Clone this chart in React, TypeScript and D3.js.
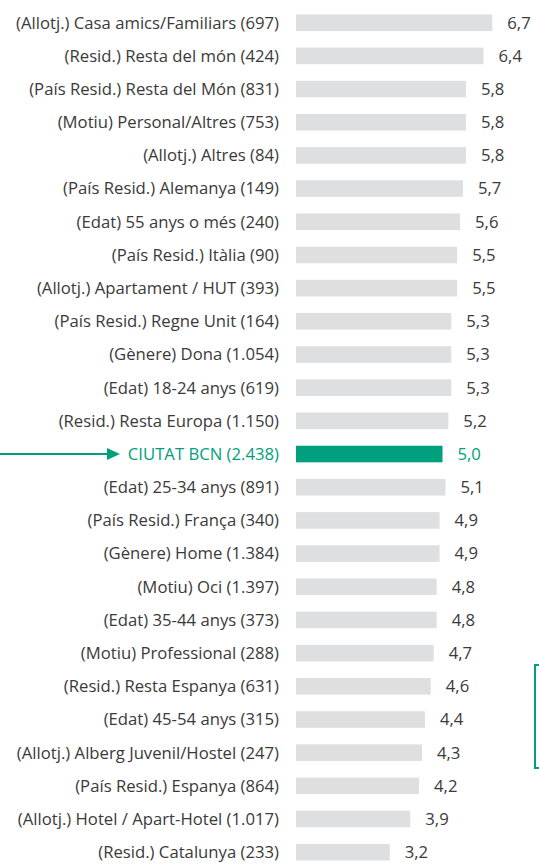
import React from "react";
import * as d3 from "d3";

const categories = [
  "(Allotj.) Casa amics/Familiars (697)",
  "(Resid.) Resta del món (424)",
  "(País Resid.) Resta del Món (831)",
  "(Motiu) Personal/Altres (753)",
  "(Allotj.) Altres (84)",
  "(País Resid.) Alemanya (149)",
  "(Edat) 55 anys o més (240)",
  "(País Resid.) Itàlia (90)",
  "(Allotj.) Apartament / HUT (393)",
  "(País Resid.) Regne Unit (164)",
  "(Gènere) Dona (1.054)",
  "(Edat) 18-24 anys (619)",
  "(Resid.) Resta Europa (1.150)",
  "CIUTAT BCN (2.438)",
  "(Edat) 25-34 anys (891)",
  "(País Resid.) França (340)",
  "(Gènere) Home (1.384)",
  "(Motiu) Oci (1.397)",
  "(Edat) 35-44 anys (373)",
  "(Motiu) Professional (288)",
  "(Resid.) Resta Espanya (631)",
  "(Edat) 45-54 anys (315)",
  "(Allotj.) Alberg Juvenil/Hostel (247)",
  "(País Resid.) Espanya (864)",
  "(Allotj.) Hotel / Apart-Hotel (1.017)",
  "(Resid.) Catalunya (233)",
];

const values = [
  6.7, 6.4, 5.8, 5.8, 5.8, 5.7, 5.6, 5.5, 5.5, 5.3, 5.3, 5.3, 5.2, 5.0, 5.1,
  4.9, 4.9, 4.8, 4.8, 4.7, 4.6, 4.4, 4.3, 4.2, 3.9, 3.2,
];

const highlight = "CIUTAT BCN (2.438)";

const GREEN = "#00a07e";
const GRAY = "#dedfe0";
const TEXT = "#3a3a3a";
const FONT = "'Open Sans', sans-serif";

export default function App() {
  const width = 539;
  const height = 867;
  const x = d3.scaleLinear().domain([0, 1]).range([296, 296 + 29.3]);
  const step = 33.18;
  const y0 = 22.7 - step / 2;
  const y = d3
    .scaleBand<string>()
    .domain(categories)
    .range([y0, y0 + step * categories.length])
    .paddingInner(0.5)
    .paddingOuter(0.25);
  const fmt = (v: number) => d3.format(".1f")(v).replace(".", ",");
  const hy = (y(highlight) ?? 0) + y.bandwidth() / 2;

  return (
    <svg
      width={width}
      height={height}
      style={{ position: "absolute", left: 0, top: 0 }}
      fontFamily={FONT}
    >
      <rect width={width} height={height} fill="#fff" />
      {categories.map((c, i) => {
        const isH = c === highlight;
        const cy = (y(c) ?? 0) + y.bandwidth() / 2;
        return (
          <g key={c}>
            <text
              x={279}
              y={cy}
              dy="0.35em"
              textAnchor="end"
              fontSize={16.7}
              fill={isH ? GREEN : TEXT}
            >
              {c}
            </text>
            <rect
              x={x(0)}
              y={y(c)}
              width={x(values[i]) - x(0)}
              height={y.bandwidth()}
              fill={isH ? GREEN : GRAY}
            />
            <text
              x={x(values[i]) + 15}
              y={cy}
              dy="0.35em"
              fontSize={16.7}
              fill={isH ? GREEN : TEXT}
            >
              {fmt(values[i])}
            </text>
          </g>
        );
      })}
      <line x1={0} x2={110} y1={hy} y2={hy} stroke={GREEN} strokeWidth={2} />
      <path
        d={`M107,${hy - 6} L120,${hy} L107,${hy + 6} Z`}
        fill={GREEN}
      />
      <rect
        x={535}
        y={665}
        width={20}
        height={103}
        fill="none"
        stroke={GREEN}
        strokeWidth={2}
      />
    </svg>
  );
}
